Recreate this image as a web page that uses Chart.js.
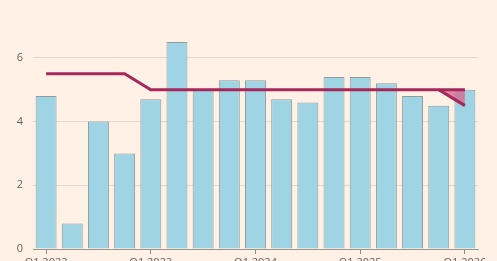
<!DOCTYPE html>
<html>
<head>
<meta charset="utf-8">
<script src="https://cdn.jsdelivr.net/npm/chart.js@4"></script>
<style>
  html, body { margin: 0; padding: 0; background: #FFF1E5; overflow: hidden; }
  #wrap { position: relative; width: 497px; height: 274px; }
</style>
</head>
<body>
<div id="wrap"><canvas id="c"></canvas></div>
<script>
const categories = ["Q1 2022","Q2 2022","Q3 2022","Q4 2022","Q1 2023","Q2 2023","Q3 2023","Q4 2023","Q1 2024","Q2 2024","Q3 2024","Q4 2024","Q1 2025","Q2 2025","Q3 2025","Q4 2025","Q1 2026"];
const barValues = [4.8, 0.8, 4.0, 3.0, 4.7, 6.5, 5.0, 5.3, 5.3, 4.7, 4.6, 5.4, 5.4, 5.2, 4.8, 4.5, 5.0];
const targetLine = [5.5, 5.5, 5.5, 5.5, 5.0, 5.0, 5.0, 5.0, 5.0, 5.0, 5.0, 5.0, 5.0, 5.0, 5.0, 5.0, 5.0];
const altLine = [null, null, null, null, null, null, null, null, null, null, null, null, null, null, null, 5.0, 4.5];
const yTicks = [0, 2, 4, 6];

const claret = '#A8275A';
new Chart(document.getElementById('c'), {
  data: {
    labels: categories,
    datasets: [
      { type: 'line', data: targetLine, borderColor: claret, borderWidth: 3, pointRadius: 0, fill: false, order: 0, tension: 0 },
      { type: 'line', data: altLine, borderColor: claret, borderWidth: 3, pointRadius: 0, fill: { target: 0 }, backgroundColor: 'rgba(214,100,140,0.75)', order: 0, tension: 0 },
      { type: 'bar', data: barValues, backgroundColor: '#9FD4E5', borderColor: '#8F9B9E', borderWidth: 1, barPercentage: 0.8, categoryPercentage: 1.0, order: 1 }
    ]
  },
  options: {
    responsive: true,
    maintainAspectRatio: false,
    animation: false,
    layout: { padding: { top: 26, right: 19, left: 0, bottom: 0 } },
    plugins: { legend: { display: false }, tooltip: { enabled: false } },
    scales: {
      x: {
        offset: true,
        grid: {
          offset: false,
          drawOnChartArea: false,
          drawTicks: true,
          tickLength: 5,
          color: (ctx) => (ctx.index % 4 === 0 ? '#8f8a85' : 'rgba(0,0,0,0)')
        },
        border: { display: true, color: '#9a948e', width: 1 },
        ticks: {
          autoSkip: false,
          maxRotation: 0,
          padding: 2,
          color: '#66605C',
          font: { family: 'Open Sans', size: 11 },
          callback: function(v, i) { return i % 4 === 0 ? categories[i] : ''; }
        },
        afterFit: (s) => { s.height = 25; }
      },
      y: {
        min: 0,
        max: 7,
        afterBuildTicks: (s) => { s.ticks = yTicks.map(v => ({ value: v })); },
        grid: { color: '#E3D8CE', drawTicks: false, lineWidth: 1 },
        border: { display: false },
        ticks: {
          padding: 10,
          color: '#66605C',
          font: { family: 'Open Sans', size: 11 }
        },
        afterFit: (s) => { s.width = 33; }
      }
    }
  }
});
</script>
</body>
</html>
